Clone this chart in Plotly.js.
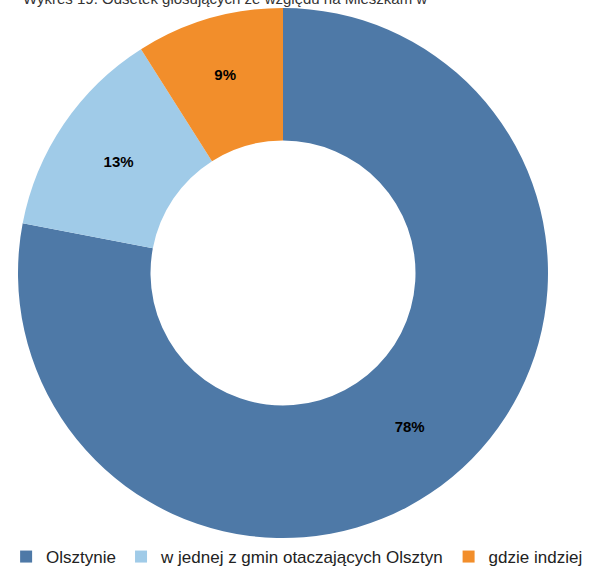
<!DOCTYPE html>
<html><head><meta charset="utf-8">
<script src="https://cdn.plot.ly/plotly-3.0.1.min.js"></script>
<style>html,body{margin:0;padding:0;background:#fff}#c{width:611px;height:577px}</style>
</head><body><div id="c"></div>
<script>
const categories = ["Olsztynie", "w jednej z gmin otaczających Olsztyn", "gdzie indziej"];
const values = [78, 13, 9];
const colors = ["#4e79a7", "#a0cbe8", "#f28e2b"];
const titleText = "Wykres 19. Odsetek głosujących ze względu na Mieszkam w";

const W = 611, H = 577, MB = 16, cx = 283, cy = 273, R = 265;
const PH = H - MB;
const trace = {
  type: "pie",
  labels: categories,
  values: values,
  hole: 0.5,
  sort: false,
  direction: "clockwise",
  rotation: 0,
  marker: {colors: colors, line: {width: 0}},
  texttemplate: "%{value}%",
  textposition: "inside",
  insidetextorientation: "horizontal",
  textfont: {family: "Liberation Sans, Arial, sans-serif", size: 15, color: "#000", weight: "bold"},
  hoverinfo: "none",
  domain: {x: [(cx - R) / W, (cx + R) / W], y: [1 - (cy + R) / PH, 1 - (cy - R) / PH]}
};
const layout = {
  width: W, height: H,
  margin: {l: 0, r: 0, t: 0, b: MB},
  paper_bgcolor: "#fff",
  showlegend: true,
  legend: {orientation: "h", x: 0.01, xanchor: "left", y: -14 / PH, yanchor: "bottom",
    itemwidth: 30,
    font: {family: "Liberation Sans, Arial, sans-serif", size: 17, color: "#222"}, traceorder: "normal"},
  annotations: [{text: titleText, xref: "paper", yref: "paper", x: 225 / W, xanchor: "center",
    y: 1, yanchor: "bottom", yshift: -9, showarrow: false,
    font: {family: "Liberation Sans, Arial, sans-serif", size: 15, color: "#333"}}]
};
Plotly.newPlot("c", [trace], layout, {displayModeBar: false, staticPlot: true});
</script></body></html>
